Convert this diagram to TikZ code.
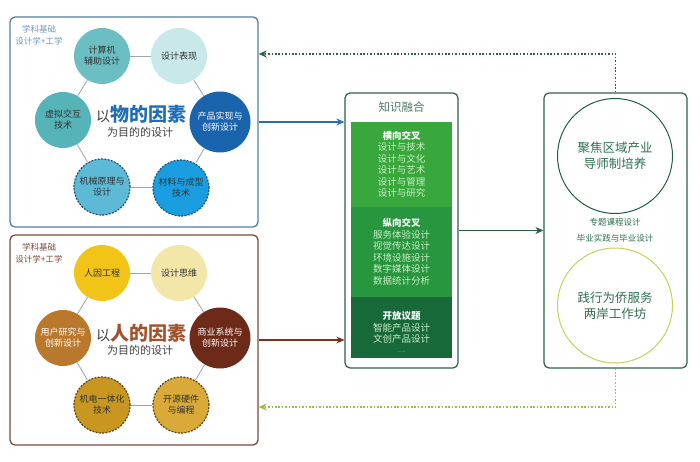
\documentclass[tikz,border=0pt]{standalone}
\usepackage{fontspec}
\setmainfont{Noto Sans CJK SC}
\usetikzlibrary{arrows.meta}
\definecolor{thingblue}{HTML}{4F7FA8}
\definecolor{humanbrown}{HTML}{7B4A38}
\definecolor{hexgray}{HTML}{9AA5AD}
\definecolor{frameg}{HTML}{2E6048}
\definecolor{leafg}{HTML}{C9EEC4}
\definecolor{textg}{HTML}{2E6E4E}
% circle colours
\definecolor{cadc}{HTML}{6BBFC3}
\definecolor{showc}{HTML}{C9E8EA}
\definecolor{vrc}{HTML}{56B3B8}
\definecolor{prodc}{HTML}{1A64AD}
\definecolor{mechc}{HTML}{5CBAD6}
\definecolor{matc}{HTML}{1B9EE0}
\definecolor{navyrim}{HTML}{1E4E78}
\definecolor{ergoc}{HTML}{F2C418}
\definecolor{thinkc}{HTML}{F2E6A8}
\definecolor{userc}{HTML}{B9782C}
\definecolor{bizc}{HTML}{6E2A18}
\definecolor{mechatc}{HTML}{C9971F}
\definecolor{ossc}{HTML}{D9AA38}
\definecolor{goldrim}{HTML}{5A4010}
% fusion and practice colours
\definecolor{horc}{HTML}{39A83C}
\definecolor{verc}{HTML}{27963F}
\definecolor{openc}{HTML}{17693A}
\definecolor{regionc}{HTML}{1F5E3E}
\definecolor{workc}{HTML}{C5CF5A}
\definecolor{arrowblue}{HTML}{2A6FB5}
\definecolor{arrowbrown}{HTML}{7A3020}
\definecolor{arrowlime}{HTML}{9AC040}
\definecolor{thingword}{HTML}{1F6DB5}
\definecolor{humanword}{HTML}{A0522D}
\tikzset{
  ball/.style={circle,minimum size=56pt,inner sep=0pt,align=center,text=black!80,
    font=\fontsize{9}{11}\selectfont},
  dashball/.style={ball,draw=#1,line width=1.2pt,dash pattern=on 2pt off 1.3pt},
  hexline/.style={draw=hexgray,line width=0.8pt},
  panel/.style={draw=#1,rounded corners=5pt,line width=1.3pt,minimum width=248pt,minimum height=210pt},
  crossbox/.style={minimum width=101pt,inner sep=0pt,align=center,text=leafg,
    font=\fontsize{9.5}{11.5}\selectfont},
  bigring/.style={circle,draw=#1,minimum size=115pt,line width=1pt,align=center,text=textg,
    font=\fontsize{12.5}{16}\selectfont},
  flow/.style={-{Stealth[length=8pt,width=7pt,inset=2.5pt]},line width=1.1pt},
  back/.style={-{Stealth[length=8pt,width=7pt,inset=2.5pt]},line width=1.3pt,dash pattern=on 1.6pt off 1.8pt}
}
\begin{document}
\begin{tikzpicture}[x=1pt,y=-1pt]
  \useasboundingbox (0,0) rectangle (700,462);
  % top panel: things
  \node[panel=thingblue] (thing) at (134,122) {};
  \node[align=center,text=thingblue!80,font=\fontsize{8.5}{11.5}\selectfont] (thinglab) at (39,35) {学科基础\\设计学+工学};
  \node[ball,fill=cadc] (cad) at (102,56) {计算机\\辅助设计};
  \node[ball,fill=showc] (show) at (179,56) {设计表现};
  \node[ball,fill=vrc] (vr) at (63,120) {虚拟交互\\技术};
  \node[ball,minimum size=61pt,text=white,fill=prodc] (prod) at (220,122) {产品实现与\\创新设计};
  \node[dashball=navyrim,fill=mechc] (mech) at (102,187) {机械原理与\\设计};
  \node[dashball=navyrim,fill=matc] (mat) at (181,188) {材料与成型\\技术};
  \foreach \a/\b in {cad/show,show/prod,prod/mat,mat/mech,mech/vr,vr/cad} % ring
    \draw[hexline] (\a) -- (\b);
  \node[text=black!75] (thingtxt) at (141,114) {\fontsize{14}{16}\selectfont 以\textcolor{thingword}{\fontsize{19}{21}\selectfont\bfseries 物的因素}};
  \node[text=black!75,font=\fontsize{11}{13}\selectfont] (thingaim) at (140,132) {为目的的设计};
  % bottom panel: people
  \node[panel=humanbrown] (human) at (134,340) {};
  \node[align=center,text=humanbrown,font=\fontsize{8.5}{11.5}\selectfont] (humanlab) at (39,253) {学科基础\\设计学+工学};
  \node[ball,fill=ergoc] (ergo) at (102,273) {人因工程};
  \node[ball,fill=thinkc] (think) at (179,273) {设计思维};
  \node[ball,text=white,fill=userc] (user) at (63,338) {用户研究与\\创新设计};
  \node[ball,minimum size=61pt,text=white,fill=bizc] (biz) at (220,338) {商业系统与\\创新设计};
  \node[dashball=goldrim,fill=mechatc] (mechat) at (102,405) {机电一体化\\技术};
  \node[dashball=goldrim,fill=ossc] (oss) at (181,405) {开源硬件\\与编程};
  \foreach \a/\b in {ergo/think,think/biz,biz/oss,oss/mechat,mechat/user,user/ergo} % ring
    \draw[hexline] (\a) -- (\b);
  \node[text=black!75] (humantxt) at (141,333) {\fontsize{14}{16}\selectfont 以\textcolor{humanword}{\fontsize{19}{21}\selectfont\bfseries 人的因素}};
  \node[text=black!75,font=\fontsize{11}{13}\selectfont] (humanaim) at (140,350) {为目的的设计};
  % middle: knowledge fusion
  \node[draw=frameg,rounded corners=5pt,line width=1.2pt,minimum width=113pt,minimum height=275pt] (fuse) at (401.5,230.5) {};
  \node[text=frameg!85,font=\fontsize{11.5}{13}\selectfont] (fusetitle) at (401.5,107) {知识融合};
  \node[crossbox,minimum height=85pt,fill=horc] (hor) at (401.5,164.5)
    {\textcolor{white}{\bfseries 横向交叉}\\设计与技术\\设计与文化\\设计与艺术\\设计与管理\\设计与研究};
  \node[crossbox,minimum height=90pt,fill=verc] (ver) at (401.5,252)
    {\textcolor{white}{\bfseries 纵向交叉}\\服务体验设计\\视觉传达设计\\环境设施设计\\数字媒体设计\\数据统计分析};
  \node[crossbox,minimum height=61pt,fill=openc] (open) at (401.5,327.5) {};
  \node[crossbox] (opentxt) at (401.5,332)
    {\textcolor{white}{\bfseries 开放议题}\\智能产品设计\\文创产品设计\\[-2pt]{\fontsize{5}{6}\selectfont ......}};
  % right: practice
  \node[draw=frameg,rounded corners=5pt,line width=1.2pt,minimum width=143pt,minimum height=275pt] (prac) at (615.5,230.5) {};
  \node[bigring=regionc] (region) at (615,156) {聚焦区域产业\\导师制培养};
  \node[text=textg,font=\fontsize{8.5}{10}\selectfont] (course) at (615,222) {专题课程设计};
  \node[text=textg,font=\fontsize{8.5}{10}\selectfont] (grad) at (615,238) {毕业实践与毕业设计};
  \node[bigring=workc] (work) at (615,305.5) {践行为侨服务\\两岸工作坊};
  % connectors
  \draw[flow,draw=arrowblue] (thing.east) -- (thing.east -| fuse.west);
  \draw[flow,draw=arrowbrown] (human.east) -- (human.east -| fuse.west);
  \draw[flow,draw=frameg] (fuse.east) -- (prac.west);
  \coordinate (upturn) at (615.5,54);
  \coordinate (downturn) at (615.5,407);
  \draw[back,draw=frameg] (prac.north) -- (upturn) -- (upturn -| thing.east);
  \draw[back,draw=arrowlime] (prac.south) -- (downturn) -- (downturn -| human.east);
\end{tikzpicture}
\end{document}
